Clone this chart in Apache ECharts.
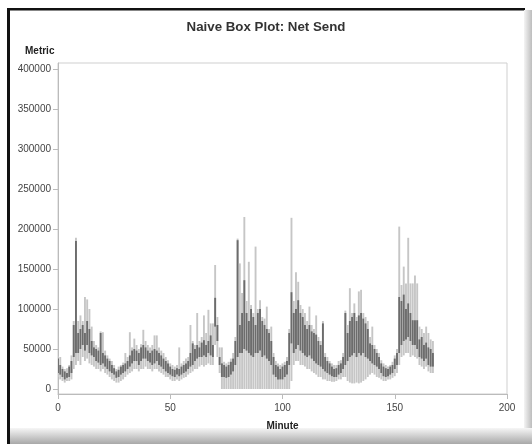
<!DOCTYPE html>
<html>
<head>
<meta charset="utf-8">
<script src="https://cdn.jsdelivr.net/npm/echarts@6/dist/echarts.min.js"></script>
<style>
html,body{margin:0;padding:0;background:#fff;}
#chart{width:532px;height:444px;}
</style>
</head>
<body>
<div id="chart"></div>
<script>
// values in thousands of units (Metric), one entry per minute starting at minute 0
const UNIT = 1000;
const firstMinute = 0;
const lowK = [
 15,12,10,8,10,10,12,25,30,35,
 30,40,35,38,32,30,28,25,25,22,
 25,20,18,15,12,10,8,8,10,12,
 15,18,20,22,25,25,22,25,25,28,
 25,25,22,25,25,22,20,18,15,15,
 12,10,10,12,10,12,14,15,18,20,
 22,25,25,28,30,28,30,32,30,30,
 55,40,20,0,0,0,0,0,0,0,
 0,0,0,0,0,0,0,0,0,0,
 0,0,0,0,0,0,0,0,0,0,
 0,0,0,0,10,30,35,35,30,30,
 28,25,25,22,20,18,15,15,12,12,
 10,10,9,9,10,12,12,15,15,10,
 8,7,7,8,7,8,10,12,15,18,
 20,18,15,14,12,10,10,12,12,14,
 16,20,30,40,42,45,45,40,42,40,
 38,30,28,25,28,22,20,20
];
const q1K = [
 20,18,15,12,14,15,20,40,45,45,
 50,55,48,55,45,42,40,35,33,30,
 32,28,25,22,20,18,14,15,18,20,
 22,25,28,32,35,35,30,35,38,38,
 35,33,30,32,35,30,28,25,22,20,
 18,16,15,18,16,18,20,22,25,28,
 30,35,38,40,40,42,40,45,42,40,
 78,60,30,15,15,14,15,18,22,30,
 40,45,45,50,48,45,42,40,45,45,
 48,40,42,38,35,30,18,15,12,12,
 12,15,18,30,57,45,50,55,48,45,
 42,40,42,38,35,32,30,28,25,22,
 20,18,16,15,15,18,20,25,30,35,
 40,42,45,40,45,42,45,40,38,35,
 32,30,28,25,20,16,15,16,18,20,
 25,30,45,55,60,62,65,60,55,55,
 50,40,38,35,38,30,28,28
];
const q3K = [
 38,30,25,22,20,28,35,80,185,70,
 75,80,70,85,75,60,52,50,48,70,
 45,42,38,35,30,26,22,24,28,30,
 32,35,42,48,50,48,45,52,55,52,
 48,45,48,50,48,45,42,38,35,32,
 28,25,24,26,25,28,30,32,35,45,
 57,50,55,52,58,61,55,60,67,55,
 114,80,40,32,30,28,30,34,38,60,
 186,80,95,136,95,85,100,90,80,95,
 100,85,80,75,70,60,40,30,28,25,
 28,30,35,70,121,95,100,111,95,90,
 80,75,80,72,70,68,60,55,82,40,
 35,32,28,25,26,30,32,40,95,70,
 85,90,95,85,92,95,88,82,75,57,
 55,50,45,40,32,28,26,25,28,30,
 38,45,115,110,118,100,107,95,86,86,
 86,62,65,55,58,52,50,45
];
const highK = [
 41,40,28,25,26,30,42,85,189,85,
 92,85,115,112,100,78,60,55,52,72,
 71,48,42,38,35,30,25,28,30,33,
 45,40,71,52,63,55,50,56,74,60,
 55,52,55,67,67,52,48,45,40,36,
 32,30,28,30,52,32,35,38,40,80,
 60,55,95,60,65,92,70,99,82,82,
 155,90,52,52,34,32,34,38,45,65,
 188,157,120,215,110,159,105,95,178,100,
 111,90,88,103,75,78,45,35,32,30,
 32,34,40,75,214,110,146,134,105,100,
 95,85,103,80,75,92,65,60,85,45,
 40,35,32,30,30,35,36,45,98,80,
 126,95,107,90,122,124,95,90,85,65,
 78,55,50,45,36,32,30,28,30,34,
 42,50,203,130,153,132,189,132,132,142,
 132,78,75,70,78,70,62,60
];
const yTicks = [0,50000,100000,150000,200000,250000,300000,350000,400000];
const xTicks = [0,50,100,150,200];

const data = lowK.map((v, i) => [firstMinute + i, v * UNIT, q1K[i] * UNIT, q3K[i] * UNIT, highK[i] * UNIT]);

const chart = echarts.init(document.getElementById('chart'), null, {renderer: 'canvas'});
const FONT = 'Liberation Sans, Arial, sans-serif';

chart.setOption({
  backgroundColor: '#ffffff',
  animation: false,
  title: {
    text: 'Naive Box Plot: Net Send',
    left: 'center',
    top: 16,
    textStyle: {fontFamily: FONT, fontSize: 13.3, fontWeight: 'bold', color: '#333333'}
  },
  graphic: [
    {type: 'rect', shape: {x: 8, y: 8, width: 517, height: 2.5}, style: {fill: '#111111'}, silent: true},
    {type: 'rect', shape: {x: 7, y: 8, width: 3, height: 436}, style: {fill: '#111111'}, silent: true},
    {type: 'rect', shape: {x: 524, y: 10, width: 8, height: 434},
     style: {fill: new echarts.graphic.LinearGradient(0, 0, 1, 0, [{offset: 0, color: '#f4f4f4'}, {offset: 1, color: '#bdbdbd'}])}, silent: true},
    {type: 'rect', shape: {x: 10, y: 428, width: 522, height: 16},
     style: {fill: new echarts.graphic.LinearGradient(0, 0, 0, 1, [{offset: 0, color: '#f6f6f6'}, {offset: 1, color: '#a8a8a8'}])}, silent: true},
    {type: 'text', left: 25, top: 46, style: {text: 'Metric', fontFamily: FONT, fontSize: 10, fontWeight: 'bold', fill: '#222'}, silent: true}
  ],
  grid: {left: 58, right: 25, top: 63, bottom: 50, show: true, borderColor: '#cfcfcf', borderWidth: 1, backgroundColor: 'transparent'},
  xAxis: {
    type: 'value', min: 0, max: 200, interval: 50,
    name: 'Minute', nameLocation: 'middle', nameGap: 27,
    nameTextStyle: {fontFamily: FONT, fontSize: 10, fontWeight: 'bold', color: '#222'},
    axisLine: {show: true, onZero: false, lineStyle: {color: '#bbbbbb'}},
    axisTick: {show: true, length: 5, customValues: xTicks, lineStyle: {color: '#bbbbbb'}},
    axisLabel: {fontFamily: FONT, fontSize: 10, color: '#444', margin: 9, customValues: xTicks},
    splitLine: {show: false}
  },
  yAxis: {
    type: 'value', min: -6250, max: 407500,
    axisLine: {show: true, lineStyle: {color: '#bbbbbb'}},
    axisTick: {show: true, length: 5, customValues: yTicks, lineStyle: {color: '#bbbbbb'}},
    axisLabel: {fontFamily: FONT, fontSize: 10, color: '#444', margin: 7, customValues: yTicks,
      formatter: function (v) { return String(v); }},
    splitLine: {show: false}
  },
  series: [{
    type: 'custom',
    data: data,
    clip: true,
    renderItem: function (params, api) {
      const x = api.value(0);
      const pLow = api.coord([x, api.value(1)]);
      const pQ1 = api.coord([x, api.value(2)]);
      const pQ3 = api.coord([x, api.value(3)]);
      const pHigh = api.coord([x, api.value(4)]);
      const w = 1.9;
      return {
        type: 'group',
        children: [
          {type: 'rect', shape: {x: pLow[0] - w / 2, y: pHigh[1], width: w, height: pLow[1] - pHigh[1]},
           style: {fill: '#c6c6c6'}},
          {type: 'rect', shape: {x: pQ1[0] - w / 2, y: pQ3[1], width: w, height: pQ1[1] - pQ3[1]},
           style: {fill: '#6c6c6c'}}
        ]
      };
    }
  }]
});
</script>
</body>
</html>
